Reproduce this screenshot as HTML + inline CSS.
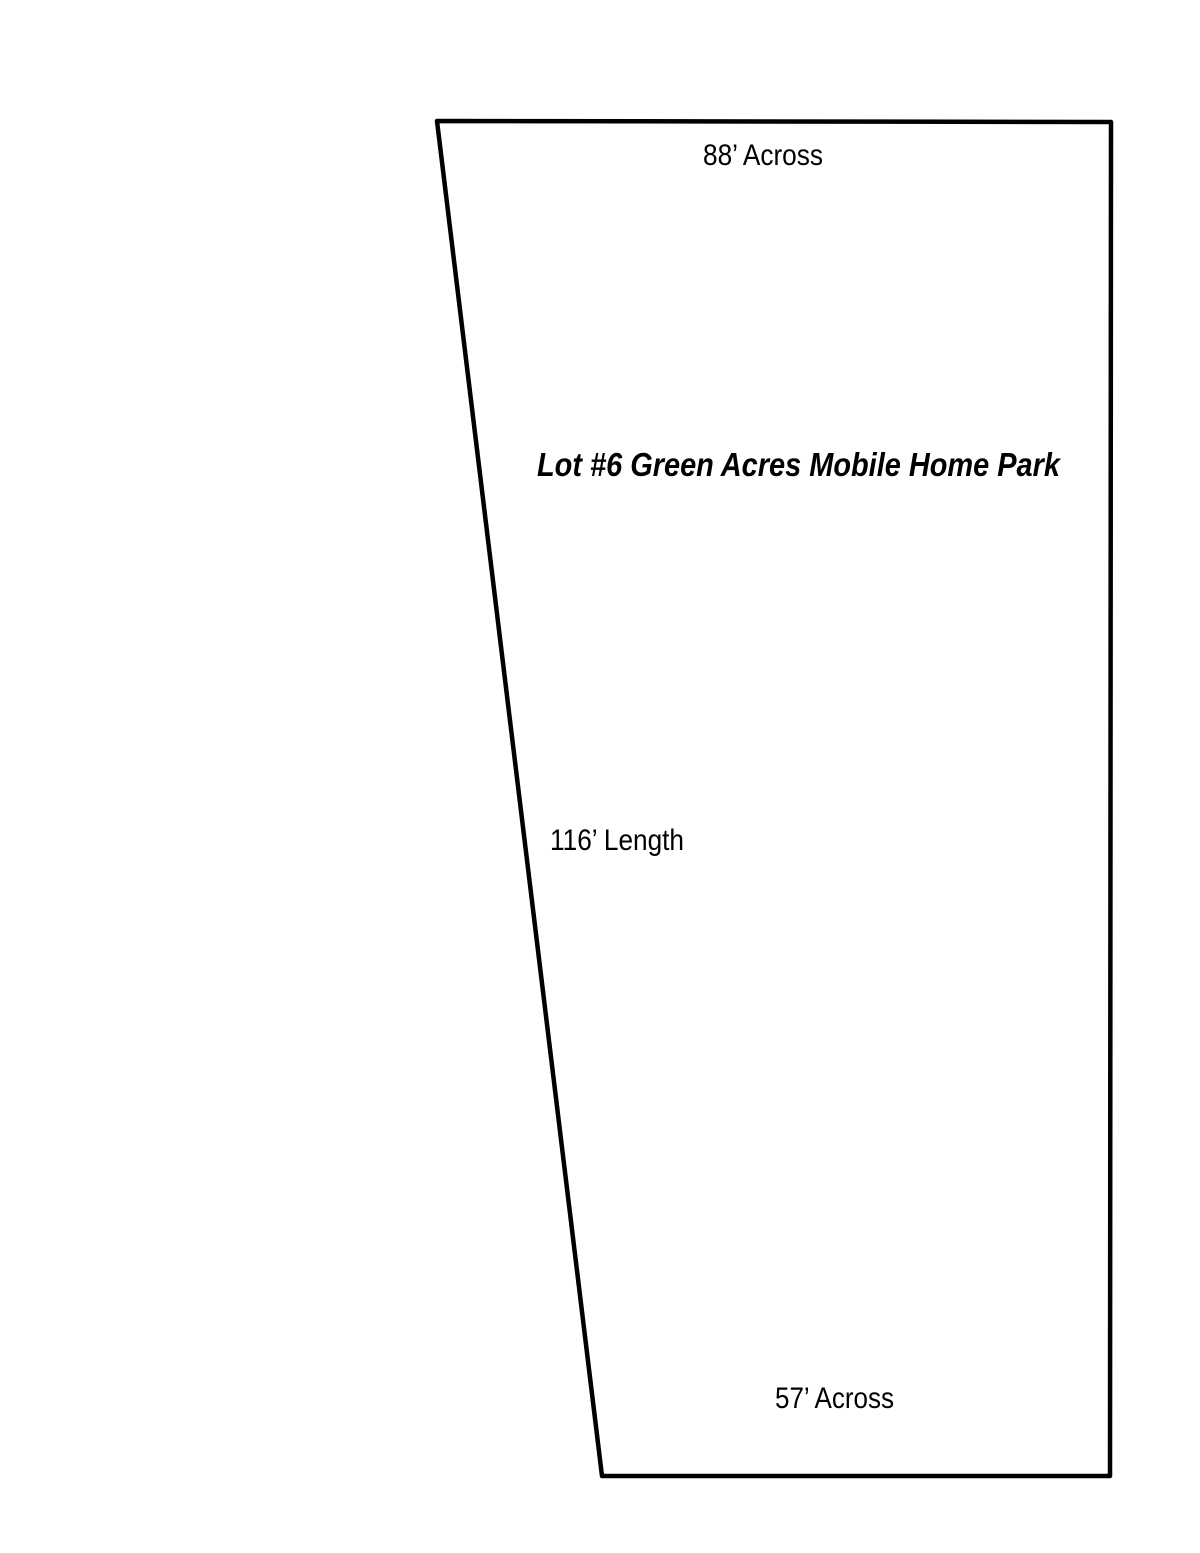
<!DOCTYPE html>
<html><head><meta charset="utf-8"><style>html,body{margin:0;padding:0;background:#fff}svg{display:block}</style></head>
<body>
<svg width="1200" height="1553" viewBox="0 0 1200 1553" xmlns="http://www.w3.org/2000/svg">
<polygon points="437,121 1111,122 1110,1476 602,1476" fill="none" stroke="#000" stroke-width="4.5" stroke-linejoin="round"/>
<g font-family="Liberation Sans, sans-serif" fill="#000">
<text x="703" y="165" font-size="30" textLength="120" lengthAdjust="spacingAndGlyphs">88’ Across</text>
<text x="537" y="476" font-size="33" font-weight="bold" font-style="italic" textLength="523" lengthAdjust="spacingAndGlyphs">Lot #6 Green Acres Mobile Home Park</text>
<text x="550" y="850" font-size="30" textLength="134" lengthAdjust="spacingAndGlyphs">116’ Length</text>
<text x="775" y="1408" font-size="30" textLength="119" lengthAdjust="spacingAndGlyphs">57’ Across</text>
</g>
</svg>
</body></html>
